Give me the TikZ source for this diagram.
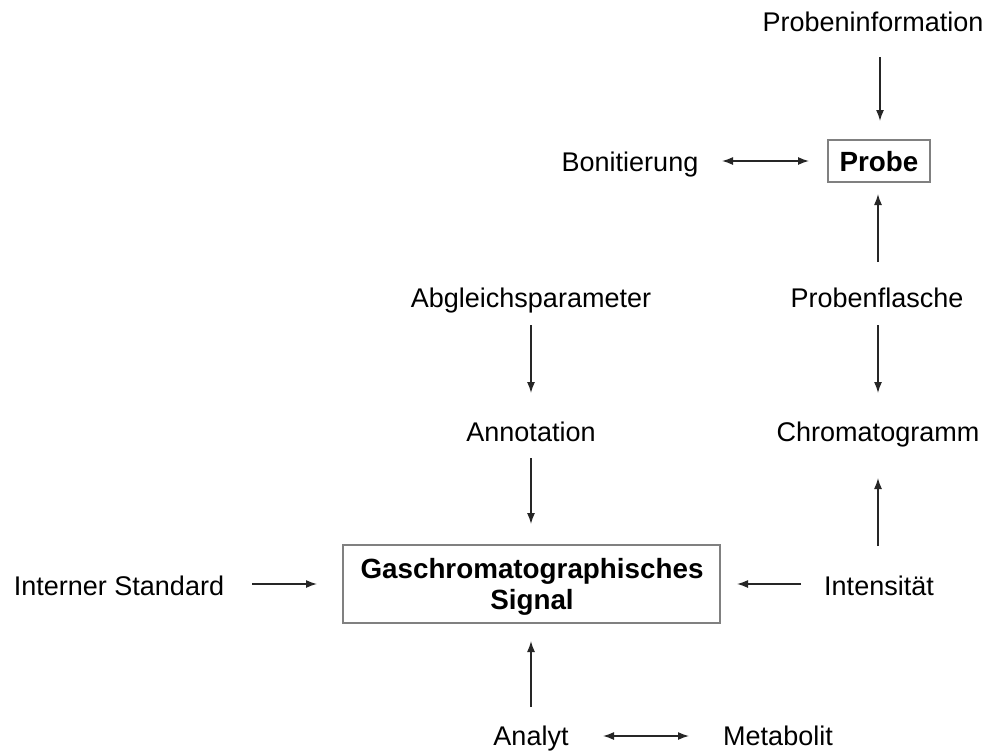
\documentclass[tikz,border=0pt]{standalone}
\usepackage{fontspec}
\setmainfont{Liberation Sans}
\usetikzlibrary{arrows.meta}
\begin{document}
\begin{tikzpicture}[x=1pt,y=-1pt,
  lbl/.style={inner sep=0pt,anchor=base,font=\fontsize{27}{31}\selectfont},
  blbl/.style={inner sep=0pt,anchor=base,font=\fontsize{27.8}{31}\selectfont\bfseries},
  boxed/.style={draw=black!50,line width=1.2pt,inner sep=0pt},
  conn/.style={draw=black!85,line width=1.4pt,-{Latex[length=11pt,width=8pt]}},
  dconn/.style={draw=black!85,line width=1.4pt,{Latex[length=11pt,width=8pt]}-{Latex[length=11pt,width=8pt]}}]
\useasboundingbox (0,0) rectangle (993,750);
% boxes
\node[boxed,minimum width=102pt,minimum height=42pt] (probebox) at (879,161) {};
\node[boxed,minimum width=377pt,minimum height=78pt] (sigbox) at (531.5,584) {};
% labels
\node[lbl] (probinfo) at (873,31) {Probeninformation};
\node[blbl] (probe) at (879,171) {Probe};
\node[lbl] (bonit) at (630,171) {Bonitierung};
\node[lbl] (abgl) at (531,307) {Abgleichsparameter};
\node[lbl] (flasche) at (877,307) {Probenflasche};
\node[lbl] (annot) at (531,441) {Annotation};
\node[lbl] (chrom) at (878,441) {Chromatogramm};
\node[lbl] (intstd) at (119,595) {Interner Standard};
\node[lbl] (intens) at (879,595) {Intensität};
\node[blbl] (gas) at (532,578) {Gaschromatographisches};
\node[blbl] (signal) at (532,609) {Signal};
\node[lbl] (analyt) at (531,745) {Analyt};
\node[lbl] (metab) at (778,745) {Metabolit};
% anchor coordinates for connector ends
\coordinate (a1s) at (880,57);  \coordinate (a1e) at (880,121);
\coordinate (a2s) at (722,161); \coordinate (a2e) at (809,161);
\coordinate (a3s) at (878,262); \coordinate (a3e) at (878,194);
\coordinate (a4s) at (878,325); \coordinate (a4e) at (878,393);
\coordinate (a5s) at (531,325); \coordinate (a5e) at (531,393);
\coordinate (a6s) at (531,458); \coordinate (a6e) at (531,524);
\coordinate (a7s) at (878,546); \coordinate (a7e) at (878,478);
\coordinate (a8s) at (801,584); \coordinate (a8e) at (737,584);
\coordinate (a9s) at (252,584); \coordinate (a9e) at (317,584);
\coordinate (a10s) at (531,707); \coordinate (a10e) at (531,641);
\coordinate (a11s) at (603,736); \coordinate (a11e) at (689,736);
\draw[conn] (a1s) -- (a1e);
\draw[dconn] (a2s) -- (a2e);
\draw[conn] (a3s) -- (a3e);
\draw[conn] (a4s) -- (a4e);
\draw[conn] (a5s) -- (a5e);
\draw[conn] (a6s) -- (a6e);
\draw[conn] (a7s) -- (a7e);
\draw[conn] (a8s) -- (a8e);
\draw[conn] (a9s) -- (a9e);
\draw[conn] (a10s) -- (a10e);
\draw[dconn] (a11s) -- (a11e);
\end{tikzpicture}
\end{document}
